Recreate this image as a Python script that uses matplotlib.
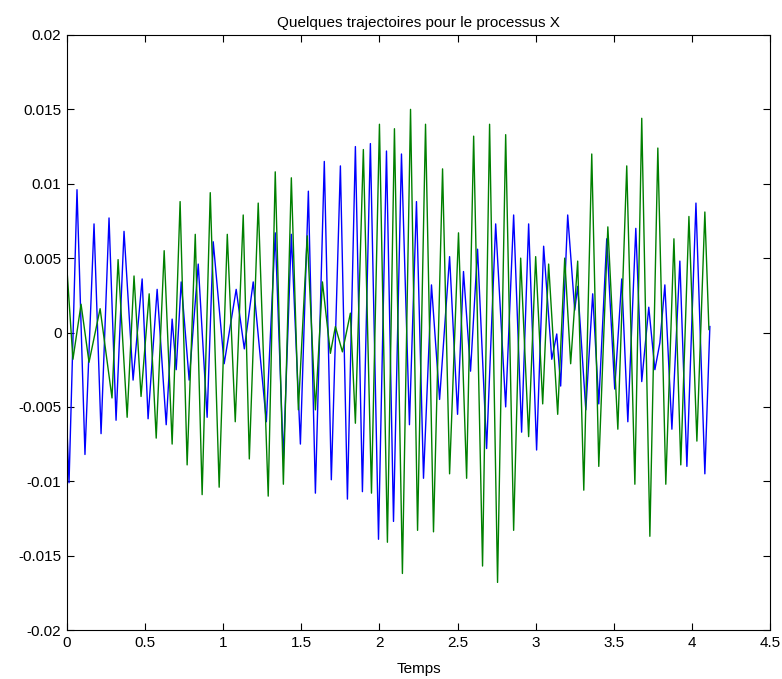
import matplotlib
matplotlib.use("Agg")
import matplotlib.pyplot as plt
import numpy as np

plt.rcParams['font.family'] = ['Liberation Sans', 'DejaVu Sans']

# Trajectory 1 (blue): time and value at turning points
t_blue = [0.000, 0.013, 0.064, 0.115, 0.173, 0.218, 0.269, 0.314, 0.365, 0.423,
          0.481, 0.519, 0.577, 0.635, 0.673, 0.699, 0.731, 0.782, 0.840, 0.897,
          0.936, 1.006, 1.083, 1.135, 1.192, 1.276, 1.333, 1.385, 1.436, 1.494,
          1.545, 1.590, 1.647, 1.692, 1.750, 1.795, 1.846, 1.891, 1.942, 1.994,
          2.045, 2.090, 2.141, 2.192, 2.237, 2.282, 2.333, 2.385, 2.449, 2.500,
          2.538, 2.583, 2.628, 2.686, 2.744, 2.808, 2.859, 2.910, 2.955, 3.006,
          3.051, 3.103, 3.135, 3.160, 3.205, 3.250, 3.269, 3.321, 3.365, 3.404,
          3.455, 3.506, 3.551, 3.590, 3.641, 3.679, 3.724, 3.763, 3.795, 3.827,
          3.872, 3.923, 3.968, 4.026, 4.083, 4.115]
x_blue = [-0.0065, -0.0101, 0.0096, -0.0082, 0.0073, -0.0068, 0.0077, -0.0059, 0.0068, -0.0032,
          0.0036, -0.0058, 0.0029, -0.0062, 0.0009, -0.0025, 0.0034, -0.0032, 0.0046, -0.0057,
          0.0061, -0.0021, 0.0029, -0.0011, 0.0034, -0.0060, 0.0067, -0.0085, 0.0066, -0.0075,
          0.0095, -0.0108, 0.0115, -0.0099, 0.0112, -0.0112, 0.0125, -0.0107, 0.0127, -0.0139,
          0.0122, -0.0127, 0.0120, -0.0062, 0.0088, -0.0098, 0.0032, -0.0045, 0.0051, -0.0055,
          0.0041, -0.0026, 0.0056, -0.0078, 0.0073, -0.0050, 0.0079, -0.0067, 0.0073, -0.0079,
          0.0058, -0.0018, -0.0001, -0.0036, 0.0079, 0.0015, 0.0031, -0.0052, 0.0026, -0.0048,
          0.0063, -0.0038, 0.0036, -0.0060, 0.0070, -0.0033, 0.0017, -0.0025, -0.0007, 0.0032,
          -0.0065, 0.0048, -0.0090, 0.0087, -0.0095, 0.0004]

# Trajectory 2 (green)
t_green = [0.000, 0.038, 0.090, 0.141, 0.212, 0.288, 0.327, 0.385, 0.429, 0.474,
           0.526, 0.571, 0.622, 0.673, 0.724, 0.769, 0.821, 0.865, 0.917, 0.974,
           1.026, 1.077, 1.128, 1.167, 1.224, 1.288, 1.333, 1.385, 1.436, 1.481,
           1.538, 1.590, 1.635, 1.686, 1.718, 1.763, 1.814, 1.846, 1.897, 1.949,
           2.000, 2.051, 2.096, 2.147, 2.199, 2.244, 2.295, 2.346, 2.404, 2.449,
           2.506, 2.558, 2.603, 2.660, 2.705, 2.756, 2.808, 2.859, 2.904, 2.955,
           3.000, 3.045, 3.083, 3.141, 3.186, 3.224, 3.269, 3.308, 3.359, 3.404,
           3.462, 3.526, 3.583, 3.635, 3.679, 3.731, 3.782, 3.833, 3.885, 3.929,
           3.981, 4.032, 4.083, 4.109]
x_green = [0.0042, -0.0018, 0.0019, -0.0020, 0.0016, -0.0044, 0.0049, -0.0057, 0.0038, -0.0043,
           0.0026, -0.0071, 0.0055, -0.0075, 0.0088, -0.0089, 0.0066, -0.0109, 0.0094, -0.0104,
           0.0066, -0.0060, 0.0079, -0.0085, 0.0087, -0.0110, 0.0108, -0.0102, 0.0104, -0.0052,
           0.0065, -0.0052, 0.0034, -0.0014, 0.0004, -0.0013, 0.0013, -0.0061, 0.0123, -0.0108,
           0.0140, -0.0141, 0.0137, -0.0162, 0.0150, -0.0133, 0.0140, -0.0134, 0.0110, -0.0095,
           0.0067, -0.0098, 0.0132, -0.0157, 0.0140, -0.0168, 0.0133, -0.0133, 0.0050, -0.0070,
           0.0051, -0.0048, 0.0046, -0.0055, 0.0050, -0.0021, 0.0048, -0.0106, 0.0120, -0.0090,
           0.0071, -0.0065, 0.0112, -0.0102, 0.0144, -0.0137, 0.0124, -0.0102, 0.0063, -0.0089,
           0.0078, -0.0073, 0.0081, 0.0002]

x_ticks = [0, 0.5, 1, 1.5, 2, 2.5, 3, 3.5, 4, 4.5]
x_tick_labels = ['0', '0.5', '1', '1.5', '2', '2.5', '3', '3.5', '4', '4.5']
y_ticks = [-0.02, -0.015, -0.01, -0.005, 0, 0.005, 0.01, 0.015, 0.02]
y_tick_labels = ['-0.02', '-0.015', '-0.01', '-0.005', '0', '0.005', '0.01', '0.015', '0.02']

fig = plt.figure(figsize=(7.82, 6.79), dpi=100, facecolor='white')
ax = fig.add_axes([67/782, 1 - 630/679, (770 - 67)/782, (630 - 35)/679])
ax.plot(t_blue, x_blue, color=(0, 0, 1), lw=1.0)
ax.plot(t_green, x_green, color=(0, 0.5, 0), lw=1.0)

ax.set_xlim(0, 4.5)
ax.set_ylim(-0.02, 0.02)
ax.set_xticks(x_ticks)
ax.set_xticklabels(x_tick_labels)
ax.set_yticks(y_ticks)
ax.set_yticklabels(y_tick_labels)
ax.tick_params(direction='in', length=5, width=0.8, top=True, right=True,
               labelsize=11, pad=4)
for s in ax.spines.values():
    s.set_linewidth(0.8)
ax.set_title('Quelques trajectoires pour le processus X', fontsize=11, pad=6)
ax.set_xlabel('Temps', fontsize=11, labelpad=9)

fig.savefig('out.png', dpi=100, facecolor='white')
